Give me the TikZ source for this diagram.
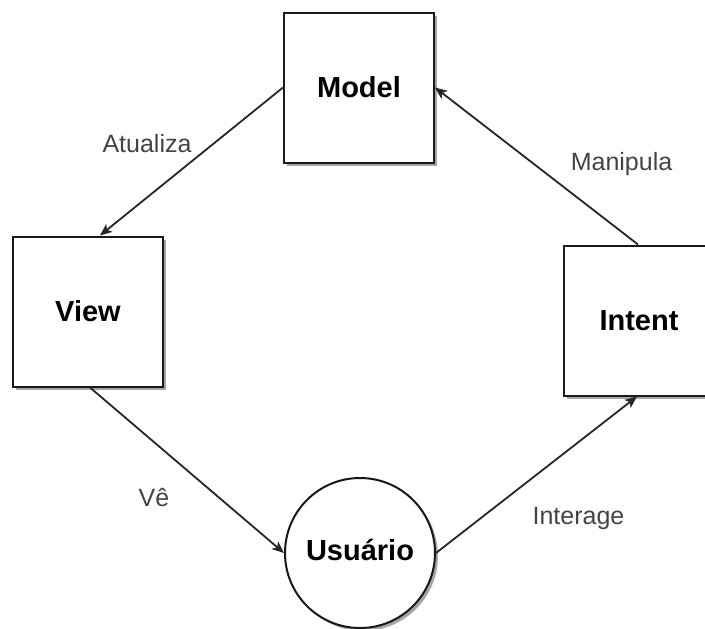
\documentclass[tikz,border=0pt]{standalone}
\usepackage{fontspec}
\setmainfont{Liberation Sans}
\usetikzlibrary{arrows.meta,shadows}
\definecolor{edgetext}{HTML}{444444}
\tikzset{
  shade3/.style={drop shadow={shadow xshift=3pt, shadow yshift=-3pt, fill=black!35, opacity=1}},
  block/.style={draw=black!90, line width=2pt, fill=white, shade3, minimum width=150pt, minimum height=150pt, inner sep=0pt, font=\fontsize{29}{34}\selectfont\bfseries},
  actor/.style={circle, draw=black!90, line width=2pt, fill=white, shade3, minimum size=150pt, inner sep=0pt, font=\fontsize{29}{34}\selectfont\bfseries},
  flow/.style={draw=black!85, line width=1.8pt, -{Stealth[length=12pt, width=10pt, inset=3pt]}},
  flowlabel/.style={text=edgetext, font=\fontsize{25}{30}\selectfont, inner sep=0pt}
}
\begin{document}
\begin{tikzpicture}[x=1pt, y=-1pt]
  \clip (0,0) rectangle (705,629);
  \fill[white] (0,0) rectangle (705,629);

  % the four elements of the cycle
  \node[block] (model)  at (359,87.5) {Model};
  \node[block] (view)   at (88,311.5) {View};
  \node[block] (intent) at (639,320.5) {Intent};
  \node[actor] (user)   at (360,553) {Usuário\vphantom{p}};

  % connectors
  \draw[flow] (model.west) -- ([xshift=12pt]view.north);
  \draw[flow] ([xshift=2pt]view.south) -- (user.west);
  \draw[flow] (user.east) -- ([xshift=-2pt]intent.south);
  \draw[flow] ([xshift=-1pt]intent.north) -- (model.east);

  % connector labels
  \node[flowlabel] (lblupdate) at (147,144) {Atualiza};
  \node[flowlabel] (lblsee)    at (154,498) {Vê};
  \node[flowlabel] (lblact)    at (578.5,518) {Interage};
  \node[flowlabel] (lblmanip)  at (621.5,164) {Manipula};
\end{tikzpicture}
\end{document}
